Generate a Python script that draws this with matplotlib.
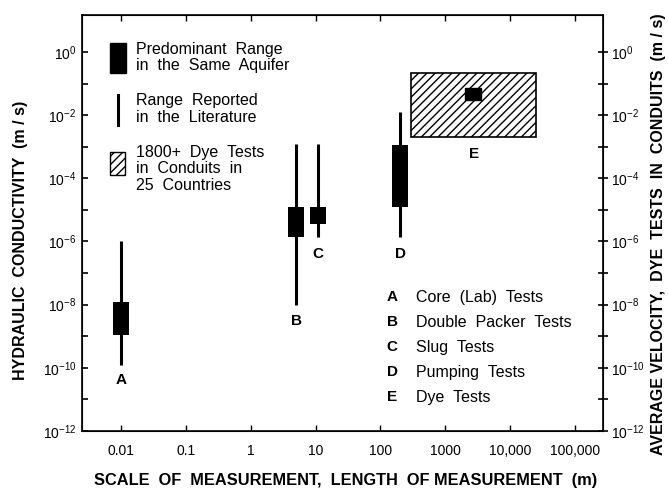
import matplotlib
matplotlib.use('Agg')
import matplotlib.pyplot as plt
from matplotlib.patches import Rectangle
from matplotlib.lines import Line2D

plt.rcParams['font.family'] = ['Liberation Sans', 'DejaVu Sans']
plt.rcParams['hatch.linewidth'] = 1.0

# ── Data ─────────────────────────────────────────────────────────────────────
tests = ['A', 'B', 'C', 'D']
scale_m = [0.01, 5, 11, 200]
lit_lo = [1.2e-10, 1e-8, 1.4e-6, 1.4e-6]
lit_hi = [1e-6, 1.2e-3, 1.2e-3, 1.3e-2]
box_lo = [1.1e-9, 1.4e-6, 3.7e-6, 1.25e-5]
box_hi = [1.2e-8, 1.2e-5, 1.2e-5, 1.1e-3]
label_y = [4e-11, 3e-9, 4e-7, 4e-7]

# dye tests (E)
dye_x = [300, 25000]
dye_v = [2e-3, 0.22]
dye_box_x = [2000, 3600]
dye_box_v = [0.03, 0.072]

test_names = ['Core  (Lab)  Tests', 'Double  Packer  Tests', 'Slug  Tests',
              'Pumping  Tests', 'Dye  Tests']
x_ticks = [0.01, 0.1, 1, 10, 100, 1000, 10000, 100000]
x_ticklabels = ['0.01', '0.1', '1', '10', '100', '1000', '10,000', '100,000']
y_ticklabels = [r'$\mathregular{10^{%d}}$' % k for k in range(0, -13, -2)]

# ── Figure ───────────────────────────────────────────────────────────────────
fig = plt.figure(figsize=(6.68, 4.9), dpi=100)
ax = fig.add_axes([0.1228, 0.1204, 0.7799, 0.849])
ax.set_xscale('log')
ax.set_yscale('log')
ax.set_xlim(10**-2.6, 10**5.43)
ax.set_ylim(1e-12, 10**1.17)

HW = 10**0.124  # half-width factor of boxes (log space)

for x, l0, l1, b0, b1, t, ly in zip(scale_m, lit_lo, lit_hi, box_lo, box_hi, tests, label_y):
    ax.plot([x, x], [l0, l1], color='black', lw=2.2, solid_capstyle='butt', zorder=2)
    ax.bar(x / HW, b1 - b0, width=x * HW - x / HW, bottom=b0, align='edge',
           color='black', edgecolor='black', lw=0, zorder=3)
    ax.text(x, ly, t, ha='center', va='center', fontsize=11, weight='bold')

# E: hatched region + predominant range
ax.add_patch(Rectangle((dye_x[0], dye_v[0]), dye_x[1] - dye_x[0], dye_v[1] - dye_v[0],
                       facecolor='white', edgecolor='black', hatch='////', lw=1.2, zorder=2))
ax.add_patch(Rectangle((dye_box_x[0], dye_box_v[0]), dye_box_x[1] - dye_box_x[0],
                       dye_box_v[1] - dye_box_v[0], facecolor='black', edgecolor='black', zorder=3))
ax.text(2800, 6e-4, 'E', ha='center', va='center', fontsize=11, weight='bold')

# ── Axes styling ─────────────────────────────────────────────────────────────
ax.set_xticks(x_ticks)
ax.set_xticklabels(x_ticklabels, fontsize=10)
ax.xaxis.set_minor_locator(matplotlib.ticker.NullLocator())
ax.tick_params(axis='x', direction='in', length=4, width=1, top=True, pad=9)
ax.set_yticks([10.0**k for k in range(0, -13, -1)])
ax.set_yticklabels([y_ticklabels[i // 2] if i % 2 == 0 else '' for i in range(13)], fontsize=10)
ax.yaxis.set_minor_locator(matplotlib.ticker.NullLocator())
ax.tick_params(axis='y', direction='in', length=4, width=1.2, pad=4)
for s in ax.spines.values():
    s.set_linewidth(1.2)

ax2 = ax.twinx()
ax2.set_yscale('log')
ax2.set_ylim(ax.get_ylim())
ax2.set_yticks([10.0**k for k in range(0, -13, -1)])
ax2.set_yticklabels([y_ticklabels[i // 2] if i % 2 == 0 else '' for i in range(13)], fontsize=10)
ax2.yaxis.set_minor_locator(matplotlib.ticker.NullLocator())
ax2.tick_params(axis='y', direction='inout', length=7, width=1.2, pad=2)

fig.text(346 / 668, 1 - 480 / 490, 'SCALE  OF  MEASUREMENT,  LENGTH  OF MEASUREMENT  (m)',
         ha='center', va='center', fontsize=11.8, weight='bold')
fig.text(21 / 668, 1 - 240 / 490, 'HYDRAULIC  CONDUCTIVITY  (m / s)', rotation=90,
         ha='center', va='center', fontsize=11.5, weight='bold')
fig.text(658 / 668, 1 - 234 / 490, 'AVERAGE VELOCITY,  DYE  TESTS  IN  CONDUITS  (m / s)',
         rotation=90, ha='center', va='center', fontsize=11.5, weight='bold')

# ── Legend (top-left) ────────────────────────────────────────────────────────
ax.add_patch(Rectangle((0.0537, 0.861), 0.0307, 0.072, transform=ax.transAxes,
                       facecolor='black', edgecolor='black', zorder=3))
ax.text(0.1036, 0.898, 'Predominant  Range\nin  the  Same  Aquifer', transform=ax.transAxes,
        ha='left', va='center', fontsize=11.5, linespacing=1.15)
ax.add_line(Line2D([0.069, 0.069], [0.736, 0.808], transform=ax.transAxes,
                   color='black', lw=2.2))
ax.text(0.1036, 0.774, 'Range  Reported\nin  the  Literature', transform=ax.transAxes,
        ha='left', va='center', fontsize=11.5, linespacing=1.15)
ax.add_patch(Rectangle((0.0537, 0.615), 0.029, 0.056, transform=ax.transAxes,
                       facecolor='white', edgecolor='black', hatch='////', lw=1.0, zorder=3))
ax.text(0.1036, 0.630, '1800+  Dye  Tests\nin  Conduits  in\n25  Countries', transform=ax.transAxes,
        ha='left', va='center', fontsize=11.5, linespacing=1.15)

# ── Legend (bottom-right) ────────────────────────────────────────────────────
for i, (t, name) in enumerate(zip(tests + ['E'], test_names)):
    yy = 0.322 - i * 0.0601
    ax.text(0.595, yy, t, transform=ax.transAxes, ha='center', va='center',
            fontsize=11, weight='bold')
    ax.text(0.641, yy, name, transform=ax.transAxes, ha='left', va='center', fontsize=11.5)

fig.savefig('out.png', dpi=100)
